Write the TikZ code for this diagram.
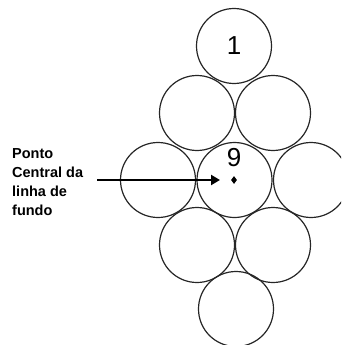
\documentclass[tikz,border=0pt]{standalone}
\usepackage{fontspec}
\setmainfont{Liberation Sans}
\usetikzlibrary{shapes.geometric,arrows.meta}
\begin{document}
\begin{tikzpicture}[x=1pt,y=-1pt,
  ball/.style={circle,draw=black!85,line width=1.2pt,minimum size=75pt,inner sep=0pt},
  num/.style={font=\fontsize{26}{26}\selectfont,inner sep=0pt},
  lbl/.style={font=\fontsize{14.5}{19}\selectfont\bfseries,align=left,inner sep=0pt,anchor=north west}]
\useasboundingbox (0,0) rectangle (341,345);
\clip (0,0) rectangle (341,345);
\node[ball] (c1) at (234,46) {};
\node[ball] (c2) at (197,113) {};
\node[ball] (c3) at (273,113) {};
\node[ball] (c4) at (158,180) {};
\node[ball] (c9) at (234.5,180) {};
\node[ball] (c6) at (311,180) {};
\node[ball] (c7) at (197,245) {};
\node[ball] (c8) at (273,245) {};
\node[ball] (c10) at (236,309) {};
\node[num] (n1) at (234,46) {1};
\node[num] (n9) at (234,158) {9};
\node[diamond,fill=black,inner sep=0pt,minimum width=6pt,minimum height=8pt] (dot) at (234,180) {};
\node[lbl] (txt) at (12,148) {Ponto\\Central da\\linha de\\fundo};
\coordinate (astart) at (97,180);
\draw[line width=2.5pt,-{Triangle[length=9pt,width=10pt]}] (astart) -- ([xshift=-14pt]dot.center);
\end{tikzpicture}
\end{document}
